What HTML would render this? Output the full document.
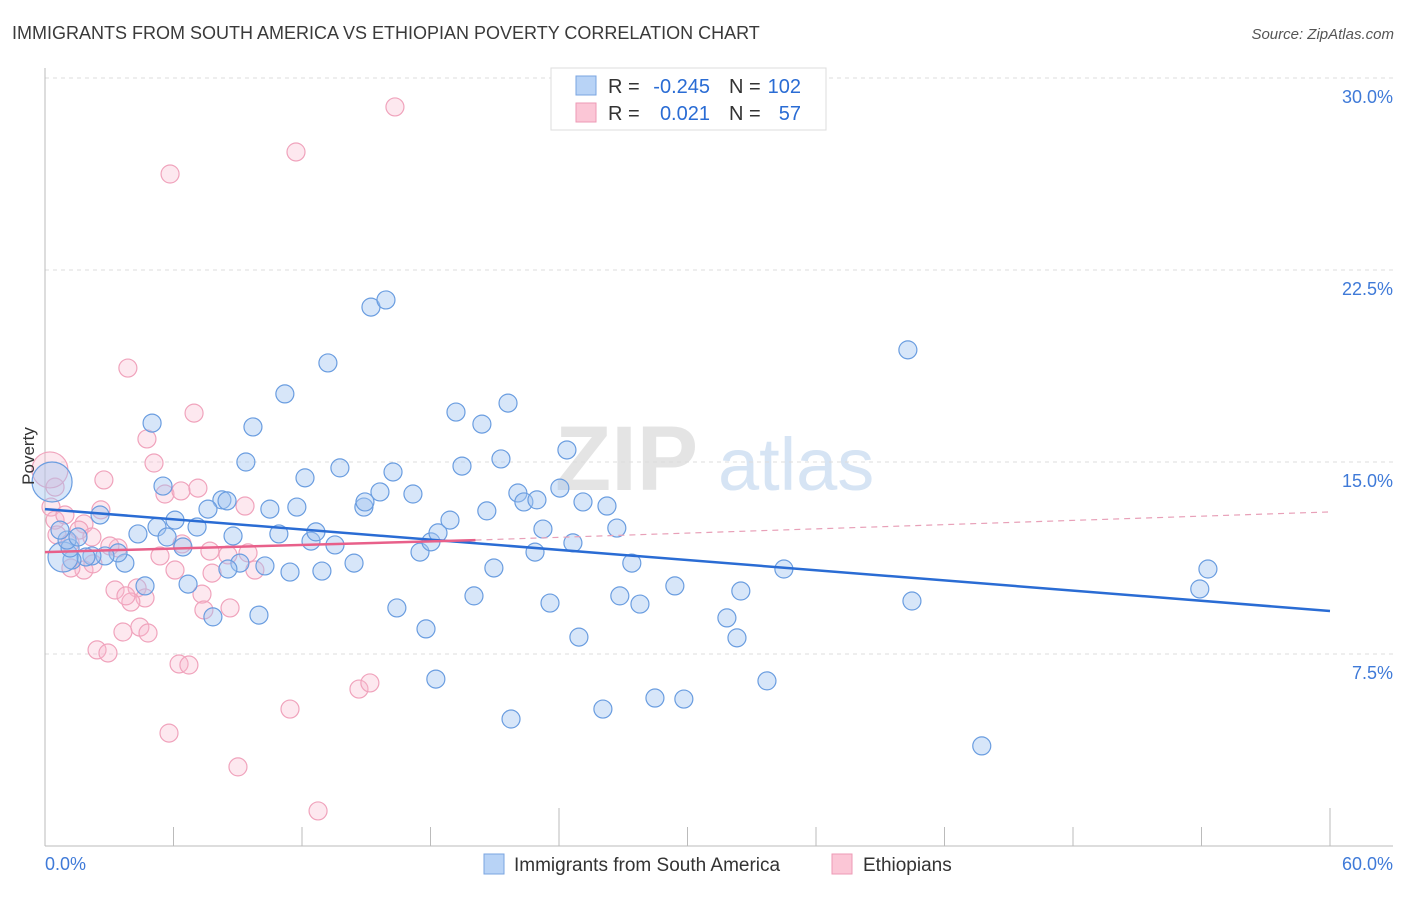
<!DOCTYPE html>
<html><head><meta charset="utf-8"><style>
body{margin:0;background:#fff;font-family:"Liberation Sans",sans-serif;}
svg text{font-family:"Liberation Sans",sans-serif;}
</style></head><body>
<svg id="chart" width="1406" height="892" xmlns="http://www.w3.org/2000/svg">
<text x="12" y="39" font-size="18" fill="#3a3a3a">IMMIGRANTS FROM SOUTH AMERICA VS ETHIOPIAN POVERTY CORRELATION CHART</text>
<text x="1394" y="39" font-size="15" fill="#555" font-style="italic" text-anchor="end">Source: ZipAtlas.com</text>
<g>
<text x="555" y="490" font-size="92" fill="#e4e4e4" font-family="Liberation Serif" font-weight="bold">ZIP</text>
<text x="718" y="490" font-size="74" fill="#d6e4f4">atlas</text>
</g>
<g id="grid"></g>
<g id="axes"></g>
<g id="marks"></g>
<text transform="translate(34,456) rotate(-90)" font-size="17" fill="#333" text-anchor="middle">Poverty</text>
<g>
<rect x="551" y="68" width="275" height="62" fill="#fff" stroke="#ddd"/>
<rect x="576" y="76" width="20" height="19" fill="#b8d3f6" stroke="#7aa5e0"/>
<rect x="576" y="103" width="20" height="19" fill="#fbc6d6" stroke="#ee9ab5"/>
<text x="608" y="93" font-size="20" fill="#333">R =</text>
<text x="710" y="93" font-size="20" fill="#2a6cd4" text-anchor="end">-0.245</text>
<text x="729" y="93" font-size="20" fill="#333">N =</text>
<text x="801" y="93" font-size="20" fill="#2a6cd4" text-anchor="end">102</text>
<text x="608" y="120" font-size="20" fill="#333">R =</text>
<text x="710" y="120" font-size="20" fill="#2a6cd4" text-anchor="end">0.021</text>
<text x="729" y="120" font-size="20" fill="#333">N =</text>
<text x="801" y="120" font-size="20" fill="#2a6cd4" text-anchor="end">57</text>
</g>
<g>
<rect x="484" y="854" width="20" height="20" fill="#b8d3f6" stroke="#7aa5e0"/>
<text x="514" y="871" font-size="19" fill="#333">Immigrants from South America</text>
<rect x="832" y="854" width="20" height="20" fill="#fbc6d6" stroke="#ee9ab5"/>
<text x="863" y="871" font-size="19" fill="#333">Ethiopians</text>
</g>
</svg>
<script>
const yTicks=[7.5,15,22.5,30];
const yTickLabels=["7.5%","15.0%","22.5%","30.0%"];
const xTicks=[0,6,12,18,24,30,36,42,48,54,60];
const blueX=[5.0,9.71,11.2,13.21,15.22,15.92,9.38,5.51,8.26,8.5,7.61,6.07,5.23,7.1,4.34,5.7,6.44,8.78,10.5,11.76,12.14,10.92,12.42,12.65,13.54,13.77,14.89,14.94,15.64,16.25,17.18,17.51,18.02,18.35,18.91,19.47,19.19,20.4,21.29,21.62,20.63,22.08,22.36,22.97,23.25,24.04,24.37,24.65,25.12,26.24,26.7,20.96,20.03,22.88,23.58,24.93,26.84,27.78,27.4,29.41,32.49,31.84,32.31,34.5,40.29,40.48,54.3,53.92,43.74,33.71,29.83,28.48,26.05,21.76,18.25,17.79,16.43,14.43,12.93,11.44,10.27,9.99,9.1,8.54,7.84,6.68,4.67,3.73,3.41,2.8,2.19,1.91,1.26,0.84,1.17,1.03,1.54,2.57,0.7,0.33];
const blueY=[16.52,16.37,17.66,18.87,21.05,21.33,15.0,14.06,13.52,13.48,13.16,12.73,12.46,12.46,12.19,12.07,11.68,12.11,13.16,13.24,14.38,12.19,11.91,12.27,11.76,14.77,13.24,13.44,13.83,14.61,13.75,11.48,11.88,12.23,12.73,14.84,16.95,16.48,15.12,17.3,13.09,13.79,13.44,13.52,12.38,13.98,15.47,11.84,13.44,13.28,12.42,10.86,9.77,11.48,9.49,8.16,9.77,9.45,11.05,10.16,9.96,8.91,8.13,10.82,19.38,9.57,10.82,10.04,3.91,6.45,5.74,5.78,5.35,4.96,6.52,8.48,9.3,11.05,10.74,10.7,10.94,9.02,11.05,10.82,8.95,10.23,10.16,11.05,11.45,11.33,11.33,11.29,11.17,11.29,11.64,11.95,12.07,12.93,12.34,14.22];
const blueR=blueX.map((v,i)=>i===blueX.length-1?20:(i===blueX.length-7?15:9));
const pinkX=[16.34,11.72,5.84,3.87,6.96,4.76,5.09,2.75,5.6,6.35,7.14,9.34,2.61,1.82,1.59,2.19,0.28,0.47,0.56,1.17,3.41,5.37,7.7,8.54,9.48,9.8,6.07,7.8,1.82,1.21,2.24,3.27,4.3,4.67,4.01,3.78,7.33,7.42,8.64,4.43,4.81,3.64,2.43,2.94,6.26,6.72,14.66,15.17,11.44,5.79,9.01,12.75,0.47,0.23,0.93,3.03,6.4];
const pinkY=[28.87,27.11,26.25,18.67,16.91,15.9,14.96,14.3,13.75,13.87,13.98,13.28,13.13,12.58,12.34,12.07,13.24,12.73,12.15,11.84,11.64,11.33,11.52,11.37,11.45,10.78,10.78,10.66,10.78,10.86,11.02,10.0,10.08,9.69,9.53,9.77,9.84,9.22,9.3,8.55,8.32,8.36,7.66,7.54,7.11,7.07,6.13,6.37,5.35,4.41,3.09,1.37,14.02,14.69,12.93,11.72,11.8];
const pinkR=pinkX.map((v,i)=>i===53?18:9);
const blueTrendX=[0,60], blueTrendY=[13.16,9.18];
const pinkTrendX=[0,20.1,60], pinkTrendY=[11.48,11.95,13.05];

const NS="http://www.w3.org/2000/svg";
const X0=45,X1=1330,Y0=846,PPY=25.6;
const sx=v=>X0+(v/60)*(X1-X0);
const sy=v=>Y0-v*PPY;
function mk(tag,attrs,parent){const e=document.createElementNS(NS,tag);for(const k in attrs)e.setAttribute(k,attrs[k]);parent.appendChild(e);return e;}
const grid=document.getElementById('grid'),axes=document.getElementById('axes'),marks=document.getElementById('marks');
yTicks.forEach((t,i)=>{
 const l=mk('line',{x1:45,x2:1393,y1:sy(t),y2:sy(t),stroke:'#ddd','stroke-dasharray':'4,4'},grid);
 
 
 const tx=mk('text',{x:1393,y:sy(t)+25,'font-size':18,fill:'#3f7ad8','text-anchor':'end'},grid);
 tx.textContent=yTickLabels[i];
 
 
});
const ya=mk('line',{x1:45,x2:45,y1:68,y2:846,stroke:'#bbb'},axes);


const xa=mk('line',{x1:45,x2:1393,y1:846,y2:846,stroke:'#bbb'},axes);


xTicks.forEach((t,i)=>{
 const tall=(t===24||t===60);
 const tk=mk('line',{x1:sx(t),x2:sx(t),y1:tall?808:827,y2:846,stroke:'#bbb'},axes);
 
 
});
[[0,'0.0%','start'],[60,'60.0%','end']].forEach(a=>{
 const tx=mk('text',{x:a[0]===0?45:1393,y:870,'font-size':18,fill:'#3f7ad8','text-anchor':a[2]},axes);
 tx.textContent=a[1];
 
 
});
pinkX.forEach((v,i)=>{
 const c=mk('circle',{cx:sx(v),cy:sy(pinkY[i]),r:pinkR[i],fill:'rgba(248,182,204,0.32)',stroke:'#f0a3bc','stroke-width':1.2},marks);
 
 
});
blueX.forEach((v,i)=>{
 const c=mk('circle',{cx:sx(v),cy:sy(blueY[i]),r:blueR[i],fill:'rgba(160,196,240,0.42)',stroke:'#6a9de0','stroke-width':1.2},marks);
 
 
});
const bt=mk('line',{x1:sx(blueTrendX[0]),y1:sy(blueTrendY[0]),x2:sx(blueTrendX[1]),y2:sy(blueTrendY[1]),stroke:'#2a6cd4','stroke-width':2.5},marks);


const pt=mk('line',{x1:sx(pinkTrendX[0]),y1:sy(pinkTrendY[0]),x2:sx(pinkTrendX[1]),y2:sy(pinkTrendY[1]),stroke:'#e8608a','stroke-width':2.5},marks);


const pd=mk('line',{x1:sx(pinkTrendX[1]),y1:sy(pinkTrendY[1]),x2:sx(pinkTrendX[2]),y2:sy(pinkTrendY[2]),stroke:'#e8a0b8','stroke-width':1.2,'stroke-dasharray':'6,5'},marks);


</script>
</body></html>
